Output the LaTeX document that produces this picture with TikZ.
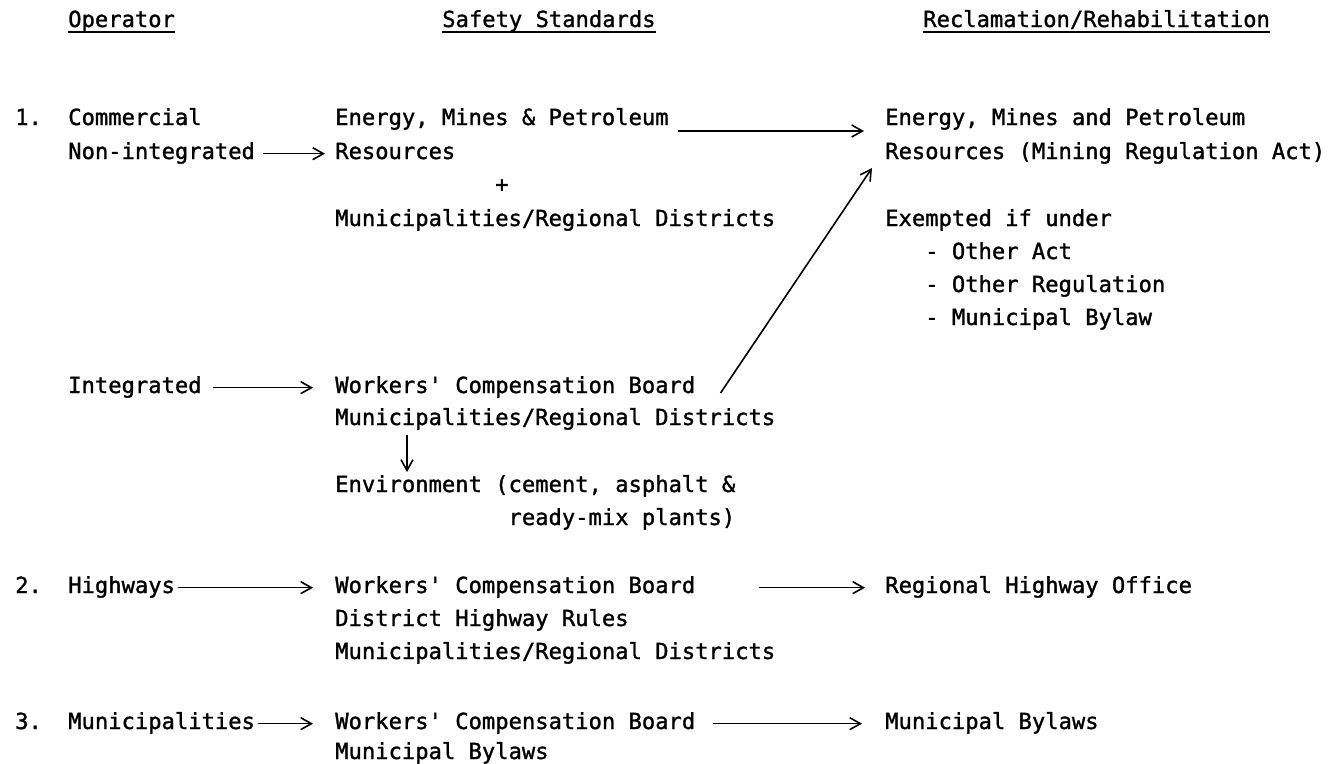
\documentclass[tikz,border=0pt]{standalone}
\usepackage{fontspec}
\setmonofont{DejaVu Sans Mono}[FakeBold=1.3]
\usetikzlibrary{arrows.meta}
\begin{document}
\begin{tikzpicture}[x=0.75pt,y=-0.75pt,
  txt/.style={font=\ttfamily\fontsize{16.61pt}{20pt}\selectfont, inner sep=0pt,
              text height=12pt, text depth=4pt, anchor=base west},
  arr/.style={-{Straight Barb[length=8pt,width=9pt]}, line width=1.2pt},
  ul/.style={line width=2pt}]
\useasboundingbox (0,0) rectangle (1329,764);
% headers
\node[txt] (hop) at (68,27) {Operator};
\node[txt] (hss) at (442,27) {Safety Standards};
\node[txt] (hrr) at (923,27) {Reclamation/Rehabilitation};
\draw[ul] ([shift={(0,5)}]hop.base west) -- ([shift={(0,5)}]hop.base east);
\draw[ul] ([shift={(0,5)}]hss.base west) -- ([shift={(0,5)}]hss.base east);
\draw[ul] ([shift={(0,5)}]hrr.base west) -- ([shift={(0,5)}]hrr.base east);
% row 1
\node[txt] (n1) at (15,125) {1.};
\node[txt] (com) at (68,125) {Commercial};
\node[txt] (nonint) at (68,159) {Non-integrated};
\node[txt] (emp1) at (335,125) {Energy, Mines \& Petroleum};
\node[txt] (res1) at (335,159) {Resources};
\node[txt] (plus) at (495,192) {+};
\node[txt] (mrd1) at (335,226) {Municipalities/Regional Districts};
\node[txt] (emp3) at (885,125) {Energy, Mines and Petroleum};
\node[txt] (res3) at (885,159) {Resources (Mining Regulation Act)};
\node[txt] (exm) at (885,226) {Exempted if under};
\node[txt] (oa) at (925,259) {- Other Act};
\node[txt] (oreg) at (925,292) {- Other Regulation};
\node[txt] (mbl) at (925,325) {- Municipal Bylaw};
% integrated
\node[txt] (integ) at (68,393) {Integrated};
\node[txt] (wcb1) at (335,393) {Workers' Compensation Board};
\node[txt] (mrd2) at (335,425) {Municipalities/Regional Districts};
\node[txt] (env) at (335,492) {Environment (cement, asphalt \&};
\node[txt] (rmp) at (508.3,525) {ready-mix plants)};
% row 2
\node[txt] (n2) at (15,593) {2.};
\node[txt] (hwy) at (68,593) {Highways};
\node[txt] (wcb2) at (335,593) {Workers' Compensation Board};
\node[txt] (dhr) at (335,626) {District Highway Rules};
\node[txt] (mrd3) at (335,659) {Municipalities/Regional Districts};
\node[txt] (rho) at (885,593) {Regional Highway Office};
% row 3
\node[txt] (n3) at (15,729) {3.};
\node[txt] (mun) at (68,729) {Municipalities};
\node[txt] (wcb3) at (335,729) {Workers' Compensation Board};
\node[txt] (mbs) at (335,759) {Municipal Bylaws};
\node[txt] (mbr) at (885,729) {Municipal Bylaws};
% connectors
\draw[arr] ([shift={(8,0)}]nonint.east) -- ([shift={(-10,0)}]res1.west);
\draw[arr] ([shift={(9,6)}]emp1.base east) -- ([shift={(-21,6)}]emp3.base west);
\draw[arr] ([shift={(25,0)}]wcb1.base east) -- ([shift={(-13,9)}]res3.base west);
\draw[arr] ([shift={(11,0)}]integ.east) -- ([shift={(-22,0)}]wcb1.west);
\draw[arr] ([shift={(72,10)}]mrd2.base west) -- ([shift={(72,-20)}]env.base west);
\draw[arr] ([shift={(3,0)}]hwy.east) -- ([shift={(-22,0)}]wcb2.west);
\draw[arr] ([shift={(63,0)}]wcb2.east) -- ([shift={(-20,0)}]rho.west);
\draw[arr] ([shift={(3,0)}]mun.east) -- ([shift={(-22,0)}]wcb3.west);
\draw[arr] ([shift={(17,0)}]wcb3.east) -- ([shift={(-23,0)}]mbr.west);
\end{tikzpicture}
\end{document}
